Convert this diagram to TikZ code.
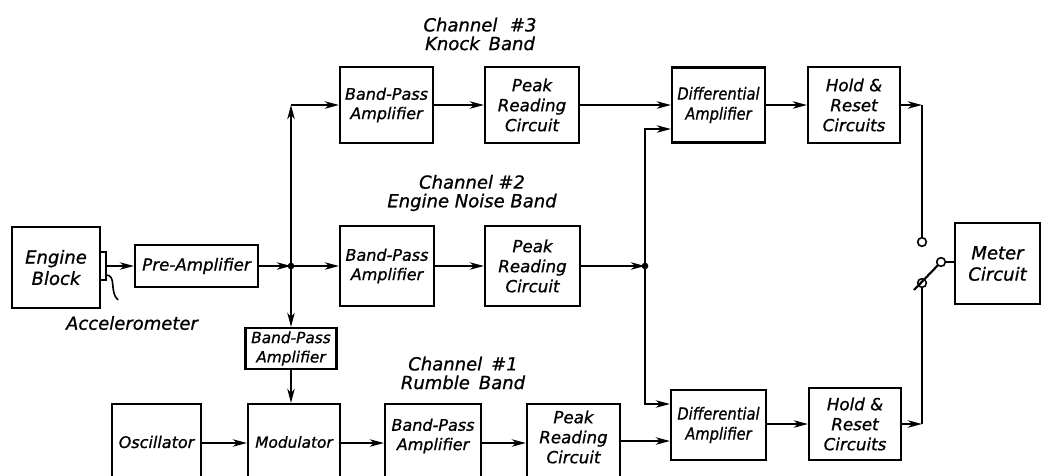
\documentclass[tikz,border=0pt]{standalone}
\usepackage{fontspec}
\setmainfont{DejaVu Sans}
\newfontfamily\hand{DejaVu Sans}[FakeBold=0.9]
\newfontfamily\handnarrow{DejaVu Sans}[FakeBold=0.9,FakeStretch=0.88]
\usetikzlibrary{arrows.meta,calc}
\begin{document}
\begin{tikzpicture}[x=0.75pt,y=-0.75pt,
  sz/.style 2 args={minimum width=#1*0.75pt, minimum height=#2*0.75pt},
  blk/.style={draw, line width=1.6pt, inner sep=0pt, align=center,
    font=\hand\fontsize{12}{14.5}\selectfont\itshape},
  big/.style={font=\hand\fontsize{13.5}{16}\selectfont\itshape},
  mid/.style={font=\hand\fontsize{12.5}{15}\selectfont\itshape},
  small/.style={font=\hand\fontsize{11.5}{14.5}\selectfont\itshape},
  narrow/.style={font=\handnarrow\fontsize{12.5}{15}\selectfont\itshape},
  txt/.style={inner sep=0pt, align=center, font=\hand\fontsize{12}{14.5}\selectfont\itshape},
  chlabel/.style={inner sep=0pt, align=center, font=\hand\fontsize{13.5}{14}\selectfont\itshape},
  wire/.style={line width=1.6pt},
  flow/.style={wire, -{Stealth[length=10.5pt,width=5.5pt,inset=3pt]}},
  jdot/.style={circle, fill, inner sep=0pt, minimum size=5pt},
  contact/.style={circle, draw, fill=white, line width=1.2pt, inner sep=0pt, minimum size=6.5pt},
]
\useasboundingbox (0,0) rectangle (1053,475);
\clip (0,0) rectangle (1053,475);

% source and pre-amplifier
\node[blk, big, sz={88}{81}] (eng) at (56,267.5) {Engine\\Block};
\node[draw, line width=1.2pt, inner sep=0pt, sz={6}{28}] (acc) at (103,266) {};
\draw[line width=1.2pt] (106,275) .. controls (117,275) and (109,292) .. (118,300);
\node[chlabel] (acclbl) at (132,323) {Accelerometer};
\node[blk, mid, sz={123}{42}] (pre) at (196.5,266) {Pre-Amplifier};

% distribution points
\coordinate (j1) at (291,266);
\coordinate (c3) at (291,105);
\coordinate (j2) at (645,266);

% channel 3
\node[chlabel] (ch3) at (480,34) {Channel\hspace{0.7em}\#3\\Knock\hspace{0.5em}Band};
\node[blk, sz={93}{76}] (bp3) at (386.5,105) {Band-Pass\\Amplifier};
\node[blk, mid, sz={94}{76}] (pk3) at (532,105) {Peak\\Reading\\Circuit};

% channel 2
\node[chlabel] (ch2) at (472,193) {Channel\hspace{0.3em}\#2\\Engine Noise Band};
\node[blk, sz={94}{80}] (bp2) at (387,266) {Band-Pass\\Amplifier};
\node[blk, mid, sz={95}{80}] (pk2) at (532.5,266) {Peak\\Reading\\Circuit};

% channel 1
\node[blk, small, sz={91}{41}] (bps) at (291,348.5) {Band-Pass\\Amplifier};
\node[chlabel] (ch1) at (463,373) {Channel\hspace{0.5em}\#1\\Rumble\hspace{0.5em}Band};
\node[blk, sz={89}{78}] (osc) at (156.5,443) {};
\node[txt] (osct) at (156.5,442) {Oscillator};
\node[blk, sz={92}{78}] (mod) at (294,443) {};
\node[txt, small] (modt) at (294,442) {Modulator};
\node[blk, sz={96}{78}] (bp1) at (433,443) {};
\node[txt] (bp1t) at (433,436) {Band-Pass\\Amplifier};
\node[blk, sz={93}{78}] (pk1) at (573.5,443) {};
\node[txt, mid] (pk1t) at (573.5,437) {Peak\\Reading\\Circuit};

% differential amplifiers and hold circuits
\node[blk, narrow, sz={93}{75}] (da3) at (718.5,105) {Differential\\Amplifier};
\node[blk, mid, sz={92}{76}] (hr3) at (854,105) {Hold \&\\Reset\\Circuits};
\node[blk, narrow, sz={95}{70}] (da1) at (718.5,425) {Differential\\Amplifier};
\node[blk, mid, sz={92}{72}] (hr1) at (855,424) {Hold \&\\Reset\\Circuits};

% meter and selector switch
\node[blk, big, sz={85}{81}] (meter) at (997.5,263.5) {Meter\\Circuit};
\coordinate (r3) at (922,105);
\coordinate (r1) at (922,424);
\coordinate (armend) at (914,290);
\node[contact] (k2) at (922,283) {};
\draw[wire] (941,262) -- (armend);
\node[contact] (k1) at (922,242) {};
\node[contact] (piv) at (941,262) {};

% signal flow
\draw[flow] (acc.east) -- (pre.west);
\draw[flow] (pre.east) -- (j1);
\draw[flow] (j1) -- (bp2.west);
\draw[flow] (j1) -- (c3);
\draw[flow] (c3) -- (bp3.west);
\draw[flow] (j1) -- (j1 |- bps.north);
\draw[flow] (bps.south) -- (bps.south |- mod.north);

\draw[flow] (bp3.east) -- (pk3.west);
\draw[flow] (pk3.east) -- (da3.west);
\draw[flow] (bp2.east) -- (pk2.west);
\draw[flow] (pk2.east) -- (j2);
\draw[flow] (j2) |- ($(da3.west)+(0,24)$);
\draw[flow] (j2) |- ($(da1.west)+(0,-21)$);

\draw[flow] (osc.east) -- (mod.west);
\draw[flow] (mod.east) -- (bp1.west);
\draw[flow] (bp1.east) -- (pk1.west);
\draw[flow] ($(pk1.east)+(0,-2)$) -- ($(da1.west)+(0,16)$);

\draw[flow] (da3.east) -- (hr3.west);
\draw[flow] (da1.east |- hr1.west) -- (hr1.west);
\draw[flow] (hr3.east) -- (r3);
\draw[wire] (r3) -- (k1.north);
\draw[flow] (hr1.east) -- (r1);
\draw[wire] (r1) -- (k2.south);
\draw[wire] (piv.east) -- (meter.west |- piv.east);

\node[jdot] (jd1) at (j1) {};
\node[jdot] (jd2) at (j2) {};
\end{tikzpicture}
\end{document}
